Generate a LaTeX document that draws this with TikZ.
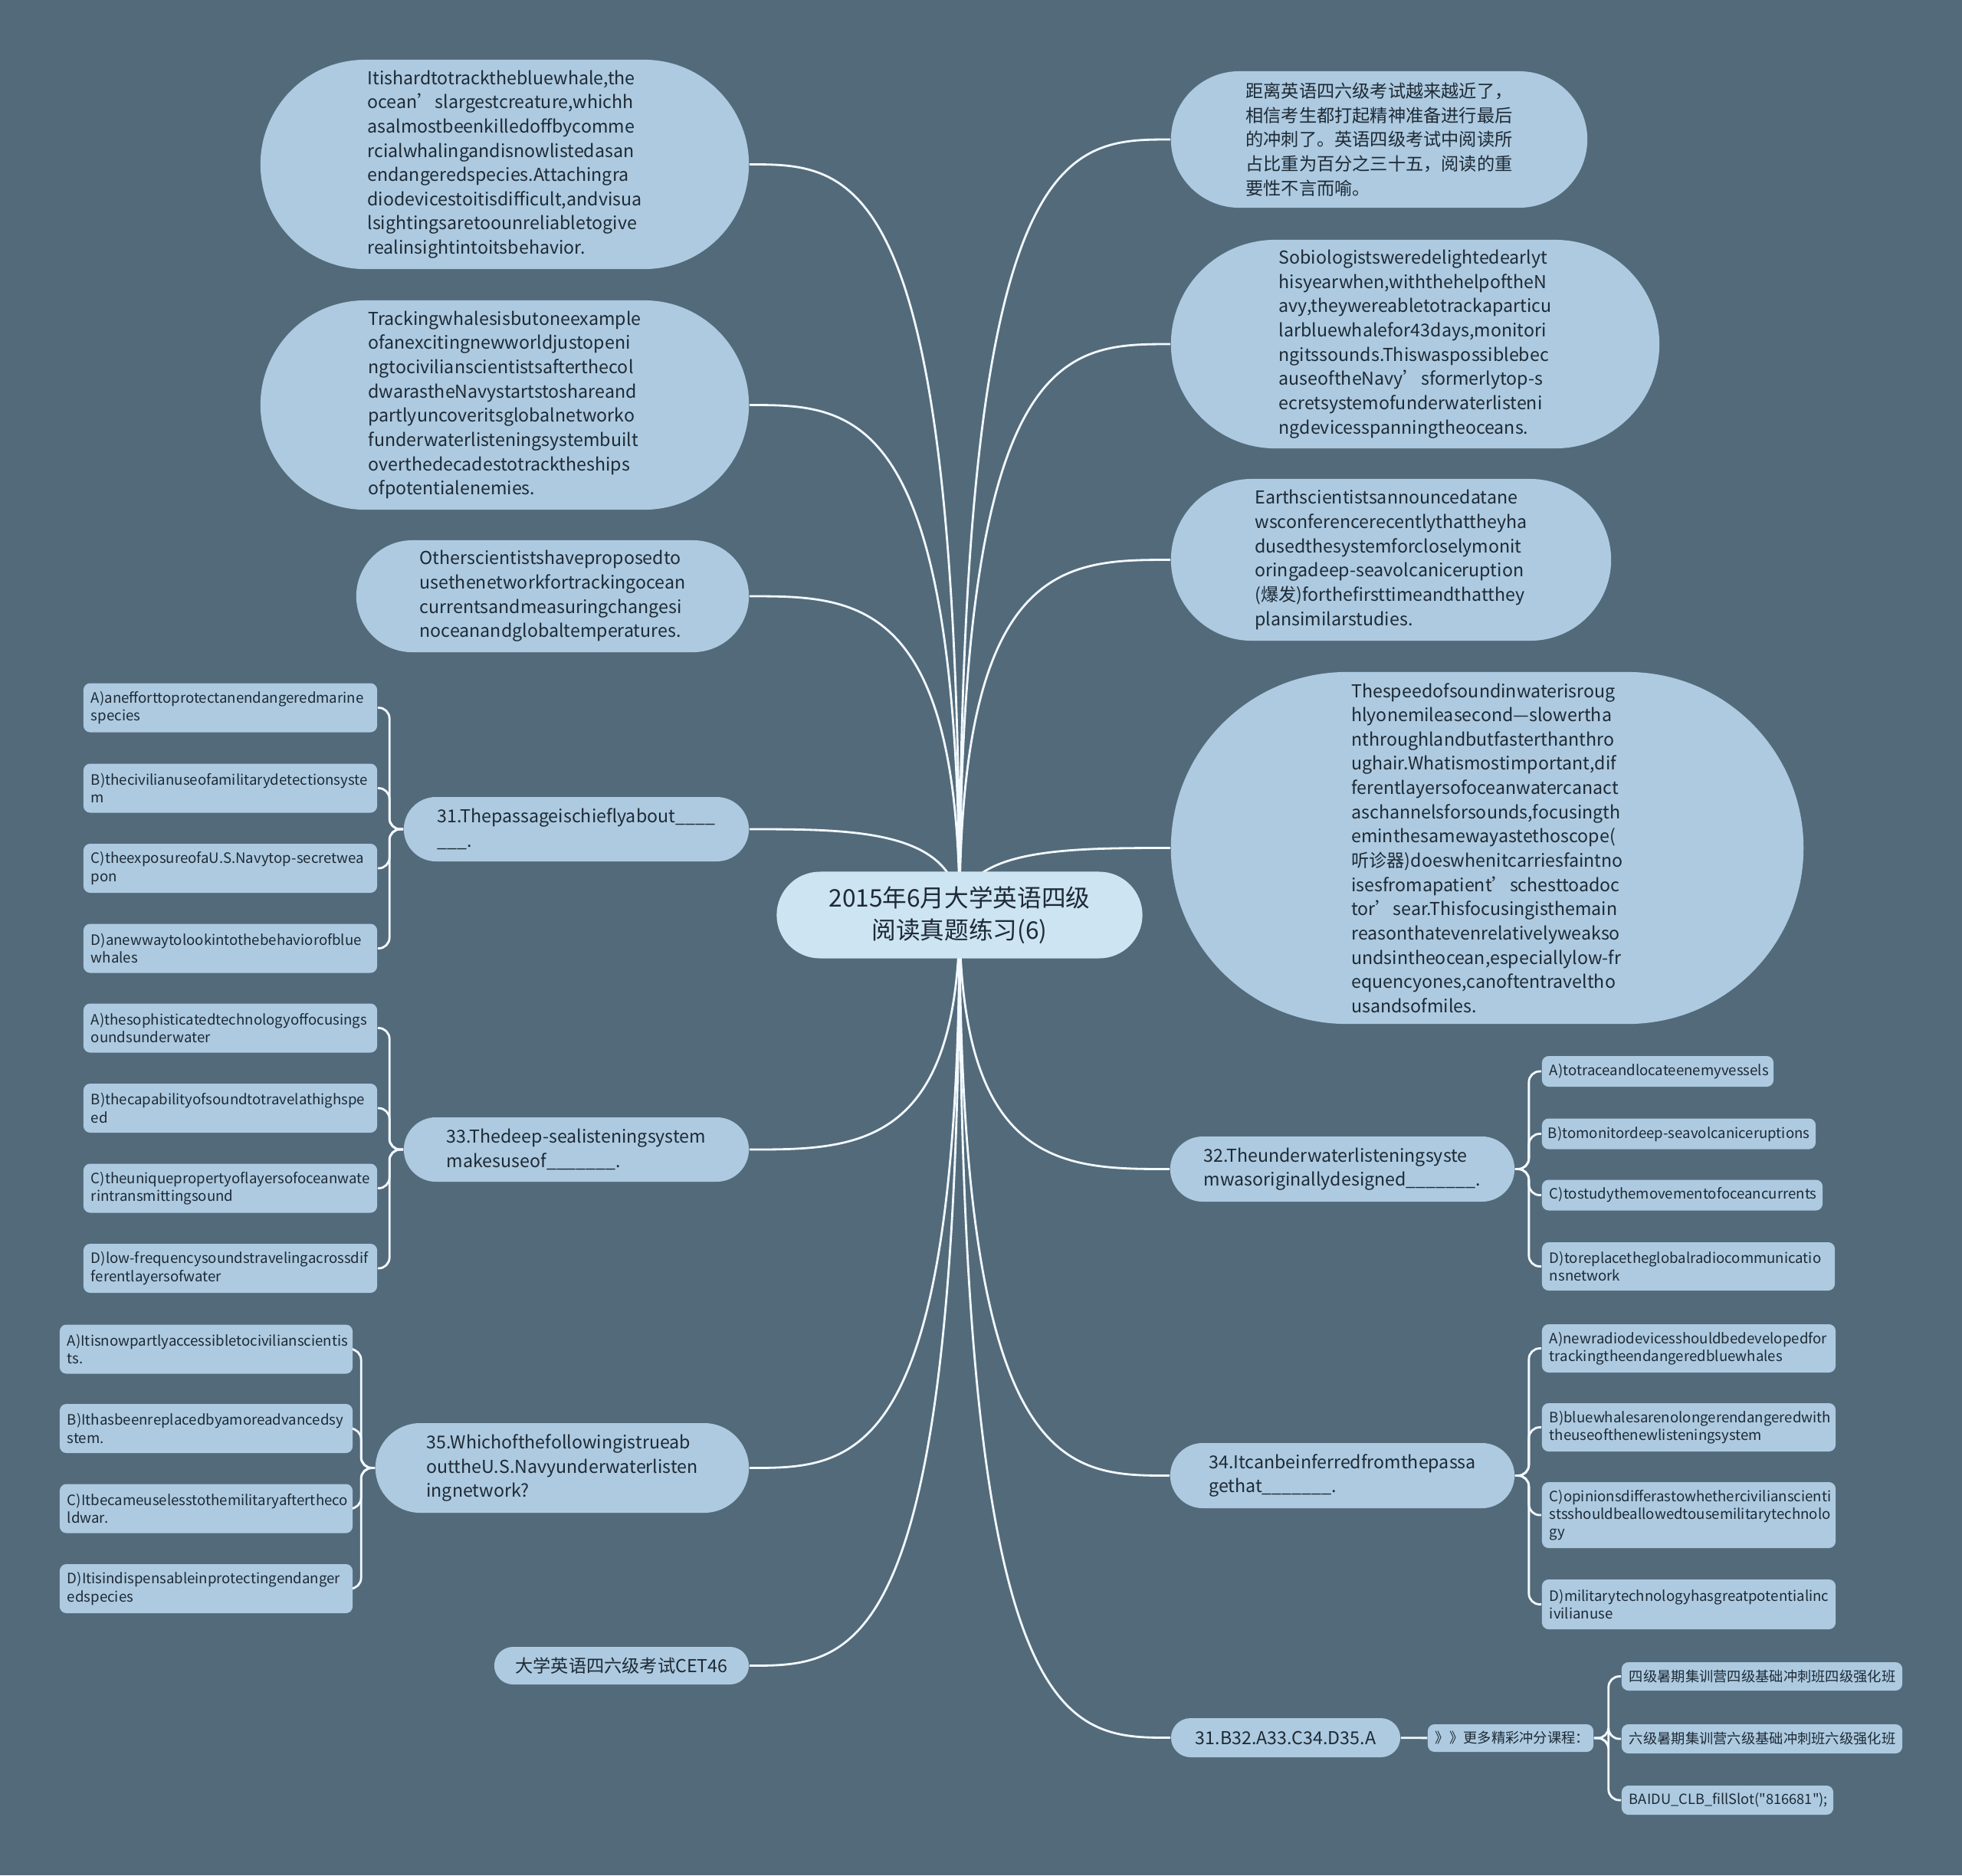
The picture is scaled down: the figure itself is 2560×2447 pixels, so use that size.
\documentclass[tikz,border=0pt]{standalone}
\usepackage{fontspec}
\setmainfont{Noto Sans CJK SC}
\usepackage{tikz}
\usetikzlibrary{shapes.misc,calc}

\definecolor{slate}{HTML}{536A7A}
\definecolor{leaf}{HTML}{ADCAE0}
\definecolor{rootfill}{HTML}{CDE4F2}
\definecolor{ink}{HTML}{1E2A35}
\definecolor{wire}{HTML}{F2F9FF}

\pgfdeclarelayer{bg}
\pgfdeclarelayer{edges}
\pgfsetlayers{bg,edges,main}

\tikzset{
  pill/.style={rounded rectangle, fill=leaf, text=ink, align=left, inner sep=0pt,
    font=\fontsize{6.6}{9}\selectfont},
  leafbox/.style={rectangle, rounded corners=2.5pt, fill=leaf, text=ink, align=left,
    inner xsep=0.1cm, inner ysep=0pt, font=\fontsize{5.3}{6.6}\selectfont},
  link/.style={draw=wire, line width=0.8pt},
  fork/.style={link, rounded corners=4pt},
}

\begin{document}
\begin{tikzpicture}[x=0.01cm, y=-0.01cm]
  \useasboundingbox (0,0) rectangle (2560,2447);
  \begin{pgfonlayer}{bg}
    \fill[slate] (0,0) rectangle (2560,2447);
  \end{pgfonlayer}

  % centre
  \node[pill, fill=rootfill, align=center, minimum width=4.77cm, minimum height=1.13cm,
    font=\fontsize{9}{12}\selectfont] (root) at (1252,1194)
    {2015年6月大学英语四级\\阅读真题练习(6)};

  % left side
  \node[pill, minimum width=6.37cm, minimum height=2.73cm] (l1) at (658.5,214.5)
    {Itishardtotrackthebluewhale,the\\ocean’slargestcreature,whichh\\asalmostbeenkilledoffbycomme\\rcialwhalingandisnowlistedasan\\endangeredspecies.Attachingra\\diodevicestoitisdifficult,andvisua\\lsightingsaretoounreliabletogive\\realinsightintoitsbehavior.};
  \node[pill, minimum width=6.37cm, minimum height=2.73cm] (l2) at (658.5,528.5)
    {Trackingwhalesisbutoneexample\\ofanexcitingnewworldjustopeni\\ngtocivilianscientistsafterthecol\\dwarastheNavystartstoshareand\\partlyuncoveritsglobalnetworko\\funderwaterlisteningsystembuilt\\overthedecadestotracktheships\\ofpotentialenemies.};
  \node[pill, minimum width=5.12cm, minimum height=1.46cm] (l3) at (721,778)
    {Otherscientistshaveproposedto\\usethenetworkfortrackingocean\\currentsandmeasuringchangesi\\noceanandglobaltemperatures.};
  \node[pill, minimum width=4.5cm, minimum height=0.84cm] (q31) at (752,1082)
    {31.Thepassageischieflyabout\_\_\_\_\\\_\_\_.};
  \node[pill, minimum width=4.5cm, minimum height=0.84cm] (q33) at (752,1500)
    {33.Thedeep-sealisteningsystem\\makesuseof\_\_\_\_\_\_\_.};
  \node[pill, minimum width=4.87cm, minimum height=1.17cm] (q35) at (733.5,1915.5)
    {35.Whichofthefollowingistrueab\\outtheU.S.Navyunderwaterlisten\\ingnetwork?};
  \node[pill, minimum width=3.32cm, minimum height=0.49cm] (cet) at (811,2173.5)
    {大学英语四六级考试CET46};

  % right side
  \node[pill, minimum width=5.43cm, minimum height=1.78cm] (r1) at (1799.5,182)
    {距离英语四六级考试越来越近了，\\相信考生都打起精神准备进行最后\\的冲刺了。英语四级考试中阅读所\\占比重为百分之三十五，阅读的重\\要性不言而喻。};
  \node[pill, minimum width=6.37cm, minimum height=2.72cm] (r2) at (1846.5,449)
    {Sobiologistsweredelightedearlyt\\hisyearwhen,withthehelpoftheN\\avy,theywereabletotrackaparticu\\larbluewhalefor43days,monitori\\ngitssounds.Thiswaspossiblebec\\auseoftheNavy’sformerlytop-s\\ecretsystemofunderwaterlisteni\\ngdevicesspanningtheoceans.};
  \node[pill, minimum width=5.74cm, minimum height=2.11cm] (r3) at (1815,730.5)
    {Earthscientistsannouncedatane\\wsconferencerecentlythattheyha\\dusedthesystemforcloselymonit\\oringadeep-seavolcaniceruption\\(爆发)forthefirsttimeandthatthey\\plansimilarstudies.};
  \node[pill, minimum width=8.25cm, minimum height=4.59cm] (r4) at (1940.5,1106.5)
    {Thespeedofsoundinwaterisroug\\hlyonemileasecond—slowertha\\nthroughlandbutfasterthanthro\\ughair.Whatismostimportant,dif\\ferentlayersofoceanwatercanact\\aschannelsforsounds,focusingth\\eminthesamewayastethoscope(\\听诊器)doeswhenitcarriesfaintno\\isesfromapatient’schesttoadoc\\tor’sear.Thisfocusingisthemain\\reasonthatevenrelativelyweakso\\undsintheocean,especiallylow-fr\\equencyones,canoftentraveltho\\usandsofmiles.};
  \node[pill, minimum width=4.49cm, minimum height=0.85cm] (q32) at (1751.5,1525.5)
    {32.Theunderwaterlisteningsyste\\mwasoriginallydesigned\_\_\_\_\_\_\_.};
  \node[pill, minimum width=4.49cm, minimum height=0.85cm] (q34) at (1751.5,1925.5)
    {34.Itcanbeinferredfromthepassa\\gethat\_\_\_\_\_\_\_.};
  \node[pill, minimum width=2.99cm, minimum height=0.51cm] (ans) at (1677.5,2267.5)
    {31.B32.A33.C34.D35.A};

  % options of 31
  \node[leafbox, text width=3.63cm, minimum height=0.64cm] (q31a) at (300.5,923.5)
    {A)anefforttoprotectanendangeredmarine\\species};
  \node[leafbox, text width=3.63cm, minimum height=0.64cm] (q31b) at (300.5,1028.5)
    {B)thecivilianuseofamilitarydetectionsyste\\m};
  \node[leafbox, text width=3.63cm, minimum height=0.64cm] (q31c) at (300.5,1133)
    {C)theexposureofaU.S.Navytop-secretwea\\pon};
  \node[leafbox, text width=3.63cm, minimum height=0.64cm] (q31d) at (300.5,1237.5)
    {D)anewwaytolookintothebehaviorofblue\\whales};

  % options of 33
  \node[leafbox, text width=3.63cm, minimum height=0.64cm] (q33a) at (300.5,1341.5)
    {A)thesophisticatedtechnologyoffocusings\\oundsunderwater};
  \node[leafbox, text width=3.63cm, minimum height=0.64cm] (q33b) at (300.5,1446)
    {B)thecapabilityofsoundtotravelathighspe\\ed};
  \node[leafbox, text width=3.63cm, minimum height=0.64cm] (q33c) at (300.5,1550.5)
    {C)theuniquepropertyoflayersofoceanwate\\rintransmittingsound};
  \node[leafbox, text width=3.63cm, minimum height=0.64cm] (q33d) at (300.5,1655)
    {D)low-frequencysoundstravelingacrossdif\\ferentlayersofwater};

  % options of 35
  \node[leafbox, text width=3.62cm, minimum height=0.64cm] (q35a) at (269,1760.5)
    {A)Itisnowpartlyaccessibletocivilianscientis\\ts.};
  \node[leafbox, text width=3.62cm, minimum height=0.64cm] (q35b) at (269,1864)
    {B)Ithasbeenreplacedbyamoreadvancedsy\\stem.};
  \node[leafbox, text width=3.62cm, minimum height=0.64cm] (q35c) at (269,1968.5)
    {C)Itbecameuselesstothemilitaryaftertheco\\ldwar.};
  \node[leafbox, text width=3.62cm, minimum height=0.64cm] (q35d) at (269,2073)
    {D)Itisindispensableinprotectingendanger\\edspecies};

  % options of 32
  \node[leafbox, text width=2.82cm, minimum height=0.4cm] (q32a) at (2163,1398)
    {A)totraceandlocateenemyvessels};
  \node[leafbox, inner xsep=0.08cm, text width=3.41cm, minimum height=0.4cm] (q32b) at (2190.5,1479.5)
    {\mbox{B)tomonitordeep-seavolcaniceruptions}};
  \node[leafbox, text width=3.46cm, minimum height=0.4cm] (q32c) at (2195,1559.5)
    {C)tostudythemovementofoceancurrents};
  \node[leafbox, text width=3.62cm, minimum height=0.63cm] (q32d) at (2203,1652.5)
    {D)toreplacetheglobalradiocommunicatio\\nsnetwork};

  % options of 34
  \node[leafbox, text width=3.63cm, minimum height=0.63cm] (q34a) at (2203.5,1759.5)
    {A)newradiodevicesshouldbedevelopedfor\\trackingtheendangeredbluewhales};
  \node[leafbox, text width=3.63cm, minimum height=0.63cm] (q34b) at (2203.5,1862.5)
    {B)bluewhalesarenolongerendangeredwith\\theuseofthenewlisteningsystem};
  \node[leafbox, text width=3.63cm, minimum height=0.86cm] (q34c) at (2203.5,1977)
    {C)opinionsdifferastowhethercivilianscienti\\stsshouldbeallowedtousemilitarytechnolo\\gy};
  \node[leafbox, text width=3.63cm, minimum height=0.65cm] (q34d) at (2203.5,2093.5)
    {D)militarytechnologyhasgreatpotentialinc\\ivilianuse};

  % answers
  \node[leafbox, align=center, text width=1.96cm, minimum height=0.36cm,
    font=\fontsize{5.2}{6.6}\selectfont] (more) at (1971,2268) {》》更多精彩冲分课程：};
  \node[leafbox, text width=3.46cm, minimum height=0.37cm,
    font=\fontsize{5.2}{6.6}\selectfont] (s1) at (2299,2187.5) {四级暑期集训营四级基础冲刺班四级强化班};
  \node[leafbox, text width=3.46cm, minimum height=0.38cm,
    font=\fontsize{5.2}{6.6}\selectfont] (s2) at (2299,2269) {六级暑期集训营六级基础冲刺班六级强化班};
  \node[leafbox, text width=2.56cm, minimum height=0.38cm,
    font=\fontsize{5.2}{6.6}\selectfont\addfontfeatures{Ligatures=TeXOff}] (s3) at (2254,2349)
    {BAIDU\_CLB\_fillSlot("816681");};

  \begin{pgfonlayer}{edges}
    \foreach \n/\a in {l1/east,l2/east,l3/east,q31/east,q33/east,q35/east,cet/east,
                       r1/west,r2/west,r3/west,r4/west,q32/west,q34/west,ans/west}
      \draw[link] (root.center) .. controls (root.center |- \n.\a)
        and ($(root.center |- \n.\a)!0.5!(\n.\a)$) .. (\n.\a);
    \foreach \q in {q31,q33,q35}
      \foreach \o in {a,b,c,d}
        \draw[fork] (\q.west) -- ++(-18,0) |- (\q\o.east);
    \foreach \q in {q32,q34}
      \foreach \o in {a,b,c,d}
        \draw[fork] (\q.east) -- ++(18,0) |- (\q\o.west);
    \draw[link] (ans) -- (more);
    \foreach \s in {s1,s2,s3}
      \draw[fork] (more.east) -- ++(19,0) |- (\s.west);
  \end{pgfonlayer}
\end{tikzpicture}
\end{document}
